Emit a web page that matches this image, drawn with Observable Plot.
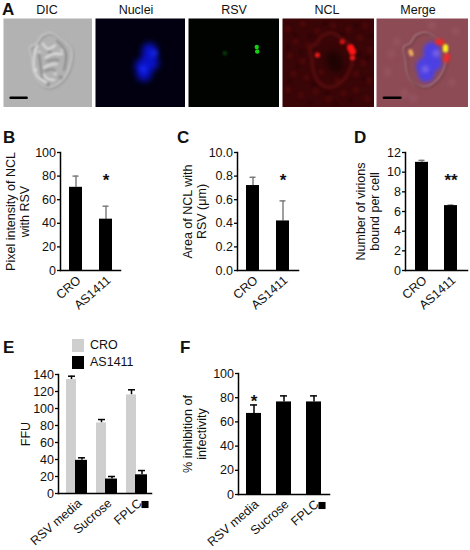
<!DOCTYPE html>
<html>
<head>
<meta charset="utf-8">
<script src="https://cdn.jsdelivr.net/npm/d3@7"></script>
<script src="https://cdn.jsdelivr.net/npm/@observablehq/plot@0.6"></script>
<style>
html,body{margin:0;padding:0;background:#fff;}
#page{position:relative;width:470px;height:550px;overflow:hidden;font-family:"Liberation Sans",Arial,sans-serif;color:#111;}
#page svg{position:absolute;overflow:visible;background:transparent;max-width:none;}
.t{position:absolute;white-space:nowrap;line-height:1;}
.letter{font-weight:bold;font-size:17px;}
.title{font-size:12.5px;transform:translateX(-50%);}
.sw{position:absolute;width:12px;height:13px;}
.lg{position:absolute;font-size:12.5px;line-height:1;}
</style>
</head>
<body>
<div id="page"></div>
<script>
// ---- bar panel data ----
const pairCats = ["CRO", "AS1411"];
const triCats = ["RSV media", "Sucrose", "FPLC"];

const bValues = [70.5, 43.5];
const bErrors = [80, 54.5];
const bTicks = [0, 20, 40, 60, 80, 100];

const cValues = [0.72, 0.42];
const cErrors = [0.79, 0.59];
const cTicks = [0, 0.2, 0.4, 0.6, 0.8, 1];
const cTickLabels = ["0.0", "0.2", "0.4", "0.6", "0.8", "10.0"];

const dValues = [11, 6.6];
const dErrors = [11.2, 6.65];
const dTicks = [0, 2, 4, 6, 8, 10, 12];

const eCro = [134, 83, 116];
const eCroErr = [138, 87, 122];
const eAs = [39, 17, 22];
const eAsErr = [42, 20, 27];
const eTicks = [0, 20, 40, 60, 80, 100, 120, 140];

const fValues = [67, 76.5, 76.5];
const fErrors = [74, 81.5, 81.5];
const fTicks = [0, 20, 40, 60, 80, 100];

// ---- micrograph features, in percent of the image square ----
const cellOutline = [[42,20],[53,16],[66,24],[76,34],[76,48],[68,67],[53,77],[42,74],[34,61],[32,46],[30,32],[36,29],[42,20]];
const foldsLight = [
  [[47,44],[55,40],[66,40]], [[45,55],[52,52],[60,51]], [[45,63],[50,68],[57,69]],
  [[38,30],[34,45],[38,65],[48,72]], [[44,28],[50,34],[58,30]]
];
const foldsDark = [
  [[49,48],[58,46],[62,47]], [[47,59],[54,57],[58,58]], [[60,25],[70,38],[68,58]], [[40,40],[42,55],[44,66]]
];
const dicLight = [[40,38],[66,36],[58,62],[36,58]];
const dicDark = [[52,38],[50,74],[64,66]];
const nucleus = [[60,36],[60,43],[57,50],[55,56],[54,62],[52,54],[62,50]];
const nucleusBright = [[65,39],[53,57]];
const rsvSpot = [[75,32],[75.5,37]];
const rsvFaint = [[40,39]];
const nclBright = [[74,33],[76,37]];
const nclSmall = [[76,44],[38,41]];
const nclDim = [[65,26]];
const nclHole = [[55,45],[58,52]];
const nclMottle = [[6,12],[22,6],[38,14],[55,8],[72,12],[90,8],[14,26],[28,30],[84,22],[95,36],[8,42],[22,48],[88,50],[12,62],[26,66],[80,62],[94,70],[6,80],[20,86],[36,82],[50,90],[66,84],[80,80],[92,90],[42,60],[60,70]];
const nclSpecks = [[14,18],[30,20],[46,6],[64,18],[80,8],[6,32],[20,38],[92,44],[16,54],[84,40],[8,70],[34,74],[30,94],[58,96],[74,92],[88,68],[48,84],[96,20]];
const mergeYellow = [[75,32],[75,35]];
const mergeRed = [[67,26],[71,27],[77,42],[76,46]];
const mergeOrange = [[38,40],[37,37]];
const mergePale = [[22,26],[82,72],[12,60],[86,14],[40,90],[60,8],[16,40],[30,84]];
const scaleBar = [[8,89],[26,89]];

// ---- labels ----
const imageTitles = [["DIC",47],["Nuclei",136],["RSV",234],["NCL",327],["Merge",418]];
const letters = [["A",2,1],["B",3,129],["C",177,129],["D",354,129],["E",3,339],["F",180,339]];

const page = document.getElementById("page");
const FONT = '"Liberation Sans", Arial, sans-serif';
const FS = 12.5;
const GREY = "#777";
const LIGHT = "#cfcfcf";

function place(svg, left, top){ svg.style.left = left + "px"; svg.style.top = top + "px"; svg.style.maxWidth = "none"; page.appendChild(svg); }

function xy(arr){ return arr.map(([x, y]) => ({x, y})); }

function micrograph(left, top, w, h, bg, marks){
  const svg = Plot.plot({
    width: w, height: h, margin: 0,
    x: {domain: [0, 100], axis: null},
    y: {domain: [100, 0], axis: null},
    style: {background: "transparent"},
    marks: [Plot.frame({fill: bg, stroke: null}), ...marks]
  });
  svg.style.clipPath = "inset(0)";
  place(svg, left, top);
}
function blobs(arr, r, fill, blur, extra = {}){
  return Plot.dot(xy(arr), {x: "x", y: "y", r, fill, stroke: null, imageFilter: `blur(${blur}px)`, ...extra});
}
function outline(stroke, sw, blur, dx = 0, dy = 0){
  return Plot.line(xy(cellOutline), {x: "x", y: "y", stroke, strokeWidth: sw, curve: "catmull-rom", dx, dy, imageFilter: `blur(${blur}px)`});
}
function folds(list, stroke, sw, blur){
  return list.map(f => Plot.line(xy(f), {x: "x", y: "y", stroke, strokeWidth: sw, curve: "catmull-rom", imageFilter: `blur(${blur}px)`}));
}
function bar(){ return Plot.line(xy(scaleBar), {x: "x", y: "y", stroke: "#000", strokeWidth: 2.5}); }

// A: five micrographs
micrograph(3, 18, 89, 89, "#b2b2b2", [
  outline("#929292", 2, 0.8, 1, 1),
  outline("#d2d2d2", 1.5, 0.8),
  blobs(dicLight, 2, "#cecece", 1),
  blobs(dicDark, 2, "#8f8f8f", 1),
  ...folds(foldsDark, "#808080", 1.6, 0.9),
  ...folds(foldsLight, "#e6e6e6", 1.8, 0.9),
  bar()
]);
micrograph(95, 18, 90, 89, "#020010", [
  blobs(nucleus, 7.5, "#0a12c8", 3),
  blobs(nucleusBright, 3, "#1a30ff", 2.4)
]);
micrograph(188, 18, 91, 89, "#000300", [
  blobs(rsvFaint, 2.2, "#0b3c0b", 1),
  blobs(rsvSpot, 2.2, "#12d012", 0.7)
]);
micrograph(282, 18, 92, 89, "#3a0507", [
  blobs(nclMottle, 3, "#4c0809", 1.4),
  blobs(nclSpecks, 2, "#2a0405", 1.1),
  outline("#5c0e0e", 2.6, 1.4),
  blobs(nclHole, 8, "#1e0303", 3.5),
  blobs(nclDim, 2.6, "#d01414", 1.2),
  blobs(nclSmall, 2.6, "#ee1a1a", 1),
  blobs(nclBright, 3.6, "#ff1414", 1)
]);
micrograph(376, 18, 92, 89, "#8d4b56", [
  blobs(mergePale, 4, "#955460", 2),
  outline("#b0828a", 1.8, 0.9),
  outline("#643038", 1.3, 0.9, 1, 1),
  blobs(nucleus, 8.5, "#4c40e4", 2),
  blobs(nucleusBright, 3, "#8a70ea", 2.2),
  blobs(mergeRed, 3, "#f02828", 1.6),
  blobs(mergeOrange, 2.2, "#f0b060", 1.1),
  blobs(mergeYellow, 2.7, "#fff020", 0.9),
  bar()
]);

// Bars
function panel(opts){
  const {x0, x1, y0, y1, cats, step, bw, align = 0.5, domain, ticks, tickFormat, label, labelX, marks} = opts;
  const left = 0, pad = 55;
  const L = x1 - x0, n = cats.length;
  const pi = 1 - bw / step;
  const po = (L / step - (n - pi)) / 2;
  const top = y1 - 400;
  const svg = Plot.plot({
    width: x1 + 3, height: 400 + pad,
    marginLeft: x0, marginRight: 3, marginTop: y0 - top, marginBottom: pad,
    style: {background: "transparent", fontFamily: FONT, fontSize: FS + "px", color: "#111", maxWidth: "none"},
    x: {domain: cats, paddingInner: pi, paddingOuter: po, align, label: null},
    y: {domain, label: null},
    marks: [
      ...marks,
      Plot.frame({anchor: "left", stroke: "#000", strokeWidth: 1.5}),
      Plot.frame({anchor: "bottom", stroke: "#000", strokeWidth: 1.5}),
      Plot.axisY({ticks, tickFormat, tickSize: 3, tickPadding: 1.5, fontSize: FS, strokeWidth: 1.3, label: null, stroke: "#000", fill: "#111"}),
      Plot.axisX({tickRotate: -41, tickSize: 0, tickPadding: 8, dx: 3, fontSize: FS, label: null, fill: "#111", tickFormat: d => d}),
      Plot.text([label], {text: d => d, frameAnchor: "left", dx: labelX - x0, rotate: -90, fontSize: FS, lineHeight: 1.15, textAnchor: "middle", fill: "#111"})
    ]
  });
  place(svg, left, top);
}
function rows(cats, v, e){ return cats.map((c, i) => ({c, v: v[i], e: e[i]})); }
function barsWithErr(data, errColor, capInset, errWidth = 1.4){
  return [
    Plot.ruleX(data, {x: "c", y1: "v", y2: "e", stroke: errColor, strokeWidth: errWidth}),
    Plot.tickY(data, {x: "c", y: "e", stroke: errColor, strokeWidth: errWidth, insetLeft: capInset, insetRight: capInset}),
    Plot.barY(data, {x: "c", y: "v", fill: "#000"})
  ];
}
function stars(cat, y, txt, fs = 17){
  return Plot.text([txt], {text: d => d, x: () => cat, y: () => y, fontSize: fs, fill: "#111", fontWeight: "bold"});
}

panel({x0: 60, x1: 120, y0: 152, y1: 270, cats: pairCats, step: 30, bw: 13,
  domain: [0, 100], ticks: bTicks, label: "Pixel intensity of NCL\nwith RSV", labelX: 17,
  marks: [...barsWithErr(rows(pairCats, bValues, bErrors), GREY, 3.5), stars("AS1411", 76, "*")]});

panel({x0: 237, x1: 298, y0: 152, y1: 270, cats: pairCats, step: 30, bw: 13,
  domain: [0, 1], ticks: cTicks, tickFormat: (d) => cTickLabels[cTicks.indexOf(d)], label: "Area of NCL with\nRSV (μm)", labelX: 194,
  marks: [...barsWithErr(rows(pairCats, cValues, cErrors), GREY, 3.5), stars("AS1411", 0.76, "*")]});

panel({x0: 405, x1: 467, y0: 152, y1: 270, cats: pairCats, step: 30, bw: 13,
  domain: [0, 12], ticks: dTicks, label: "Number of virions\nbound per cell", labelX: 367,
  marks: [...barsWithErr(rows(pairCats, dValues, dErrors), GREY, 3.5), stars("AS1411", 9.1, "**")]});

const eCroRows = rows(triCats, eCro, eCroErr);
const eAsRows = rows(triCats, eAs, eAsErr);
panel({x0: 58, x1: 151, y0: 374, y1: 493, cats: triCats, step: 30.5, bw: 21, align: 0.64,
  domain: [0, 140], ticks: eTicks, label: "FFU", labelX: 25,
  marks: [
    Plot.ruleX(eCroRows, {x: "c", y1: "v", y2: "e", dx: -5.5, stroke: "#000", strokeWidth: 1.5}),
    Plot.tickY(eCroRows, {x: "c", y: "e", stroke: "#000", strokeWidth: 1.5, insetLeft: 2, insetRight: 12}),
    Plot.barY(eCroRows, {x: "c", y: "v", fill: LIGHT, insetRight: 11}),
    Plot.ruleX(eAsRows, {x: "c", y1: "v", y2: "e", dx: 5, stroke: "#000", strokeWidth: 1.5}),
    Plot.tickY(eAsRows, {x: "c", y: "e", stroke: "#000", strokeWidth: 1.5, insetLeft: 12, insetRight: 2}),
    Plot.barY(eAsRows, {x: "c", y: "v", fill: "#000", insetLeft: 9}),
    Plot.dot(["FPLC"], {x: d => d, frameAnchor: "bottom", dx: 8, dy: 11, r: 4, symbol: "square", fill: "#000"})
  ]});

panel({x0: 238, x1: 329, y0: 373, y1: 494, cats: triCats, step: 30.5, bw: 15,
  domain: [0, 100], ticks: fTicks, label: "% inhibition of\ninfectivity", labelX: 194,
  marks: [...barsWithErr(rows(triCats, fValues, fErrors), "#000", 4, 1.5), stars("RSV media", 77, "*"),
    Plot.dot(["FPLC"], {x: d => d, frameAnchor: "bottom", dx: 8, dy: 11, r: 4, symbol: "square", fill: "#000"})
  ]});

// Text labels and legend
for (const [t, x, y] of letters) {
  const d = document.createElement("div"); d.className = "t letter"; d.textContent = t;
  d.style.left = x + "px"; d.style.top = y + "px"; page.appendChild(d);
}
for (const [t, x] of imageTitles) {
  const d = document.createElement("div"); d.className = "t title"; d.textContent = t;
  d.style.left = x + "px"; d.style.top = "4px"; page.appendChild(d);
}
[["CRO", LIGHT, 339], ["AS1411", "#000", 356]].forEach(([t, c, y]) => {
  const s = document.createElement("div"); s.className = "sw"; s.style.cssText = `left:72px;top:${y}px;background:${c}`; page.appendChild(s);
  const l = document.createElement("div"); l.className = "lg"; l.textContent = t; l.style.left = "90px"; l.style.top = (y) + "px"; page.appendChild(l);
});
</script>
</body>
</html>
